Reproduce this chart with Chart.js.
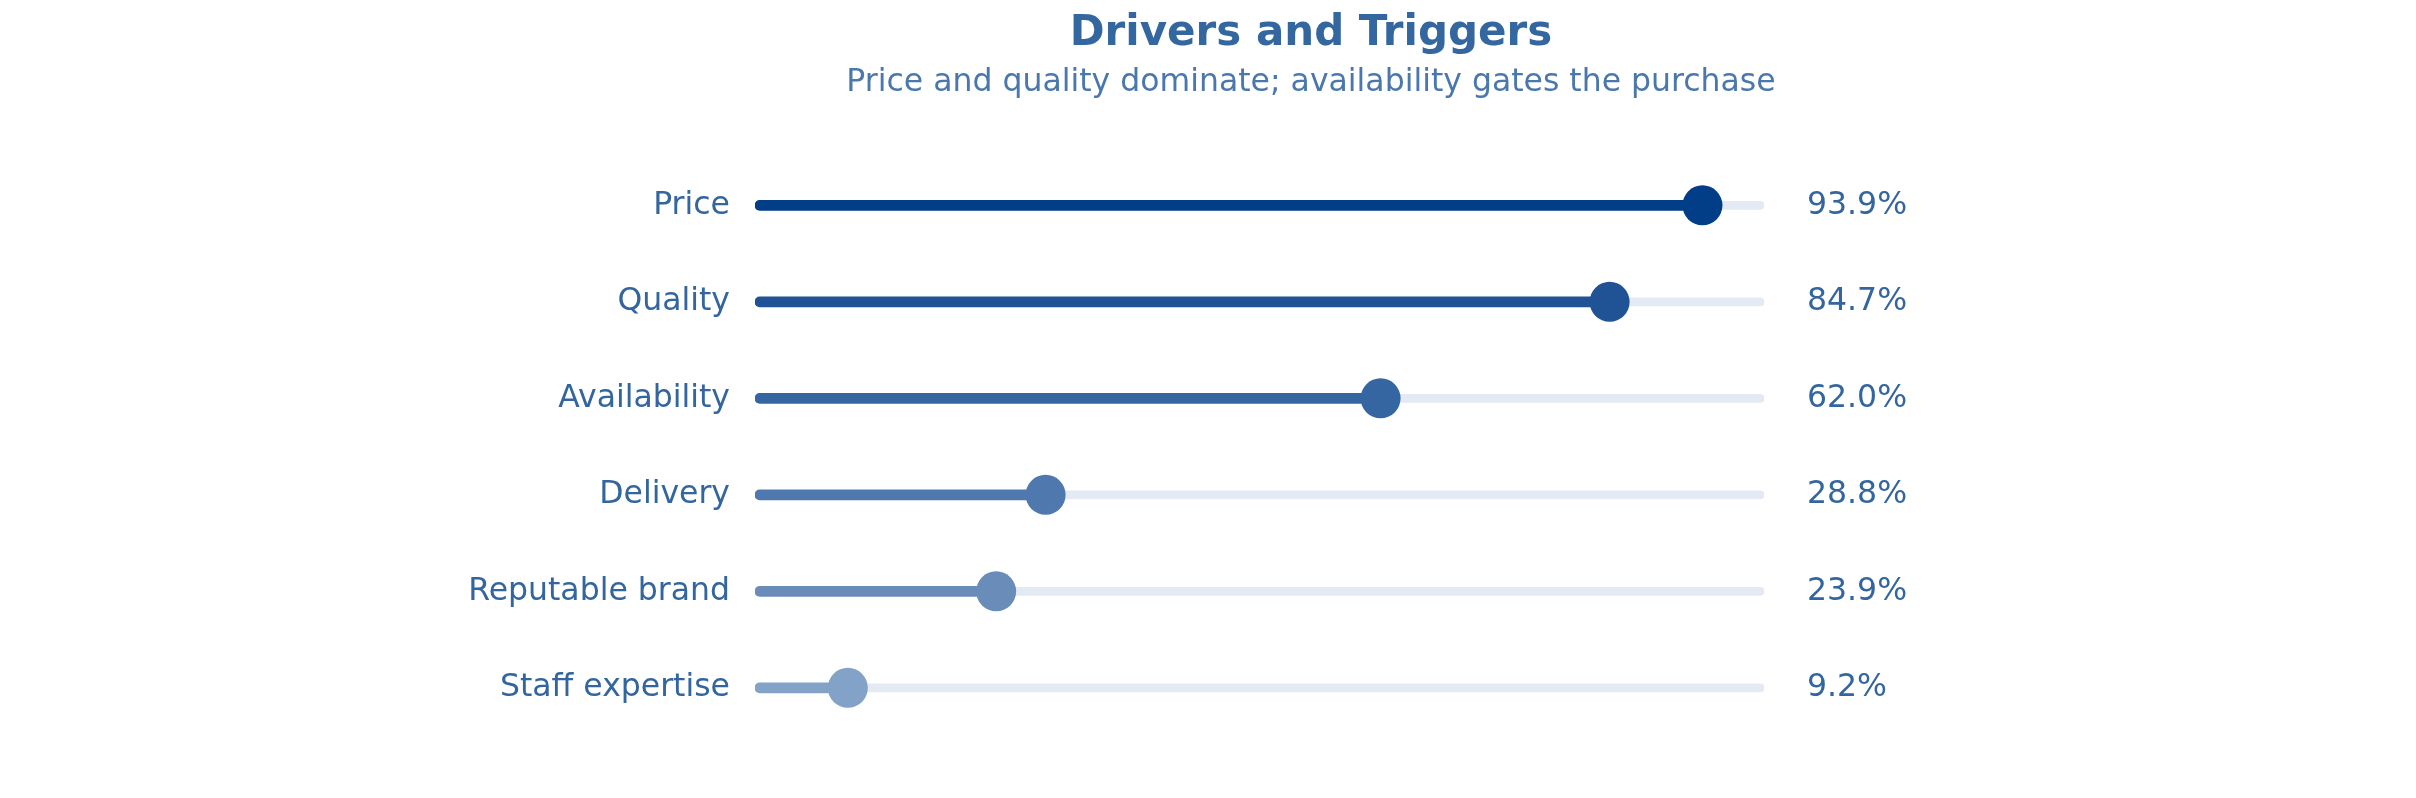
<!DOCTYPE html>
<html>
<head>
<meta charset="utf-8">
<script src="https://cdn.jsdelivr.net/npm/chart.js@4"></script>
<style>
    html, body { margin: 0; padding: 0; background: #ffffff; }
    #wrap { width: 2416px; height: 798px; }
</style>
</head>
<body>
<div id="wrap"><canvas id="lollipop"></canvas></div>
<script>
    // chart data
    let categories = ["Price", "Quality", "Availability", "Delivery", "Reputable brand", "Staff expertise"];
    let shares = [93.9, 84.7, 62.0, 28.8, 23.9, 9.2];
    let valueLabels = ["93.9%", "84.7%", "62.0%", "28.8%", "23.9%", "9.2%"];
    let trackValues = [100, 100, 100, 100, 100, 100];
    let rowColors = ["#023d88", "#1f5395", "#3566a1", "#4e78ae", "#6a8cb8", "#83a2c7"];

    let textColor = "#33659e";
    let fontFamily = "'DejaVu Sans', sans-serif";

    function GenerateChart() {
        new Chart(document.getElementById("lollipop"), {
            type: 'bar',
            data: {
                labels: categories,
                datasets: [
                    {
                        type: 'line',
                        label: "Share",
                        data: shares,
                        yAxisID: 'y',
                        indexAxis: 'y',
                        showLine: false,
                        pointRadius: 20,
                        pointHoverRadius: 20,
                        pointBorderWidth: 0,
                        pointBackgroundColor: rowColors,
                        pointBorderColor: rowColors,
                        order: 0,
                    }, {
                        label: "Bar",
                        data: shares,
                        yAxisID: 'y',
                        backgroundColor: rowColors,
                        barThickness: 10,
                        borderRadius: 5,
                        borderSkipped: false,
                        grouped: false,
                        order: 1,
                    }, {
                        label: "Track",
                        data: trackValues,
                        yAxisID: 'y',
                        backgroundColor: "#e4eaf3",
                        barThickness: 8,
                        borderRadius: 4,
                        borderSkipped: false,
                        grouped: false,
                        order: 2,
                    }
                ]
            },
            options: {
                indexAxis: 'y',
                responsive: true,
                maintainAspectRatio: false,
                animation: false,
                events: [],
                layout: {
                    // left padding shifts the centred title to the right, like the original
                    padding: { left: 206, right: 0, top: 0, bottom: 58.5 }
                },
                scales: {
                    x: {
                        type: 'linear',
                        min: 0,
                        max: 100,
                        display: false,
                    },
                    y: {
                        type: 'category',
                        position: 'left',
                        offset: true,
                        grid: { display: false, drawTicks: false },
                        border: { display: false },
                        ticks: {
                            padding: 25,
                            color: textColor,
                            font: { family: fontFamily, size: 31.5 },
                        },
                        afterFit: function (scale) { scale.width = 549; },
                    },
                    y2: {
                        type: 'category',
                        position: 'right',
                        labels: valueLabels,
                        offset: true,
                        grid: { display: false, drawTicks: false },
                        border: { display: false },
                        ticks: {
                            padding: 43,
                            color: textColor,
                            font: { family: fontFamily, size: 31.5 },
                        },
                        afterFit: function (scale) { scale.width = 652; },
                    }
                },
                plugins: {
                    legend: { display: false },
                    tooltip: { enabled: false },
                    title: {
                        display: true,
                        text: 'Drivers and Triggers',
                        color: "#3467a0",
                        font: { family: fontFamily, size: 42, weight: 'bold' },
                        padding: { top: 9, bottom: 0 },
                    },
                    subtitle: {
                        display: true,
                        text: 'Price and quality dominate; availability gates the purchase',
                        color: "#4a78ae",
                        font: { family: fontFamily, size: 31.5 },
                        padding: { top: 4.5, bottom: 55.4 },
                    }
                }
            }
        });
    }

    window.onload = function () {
        GenerateChart();
    }
</script>
</body>
</html>
